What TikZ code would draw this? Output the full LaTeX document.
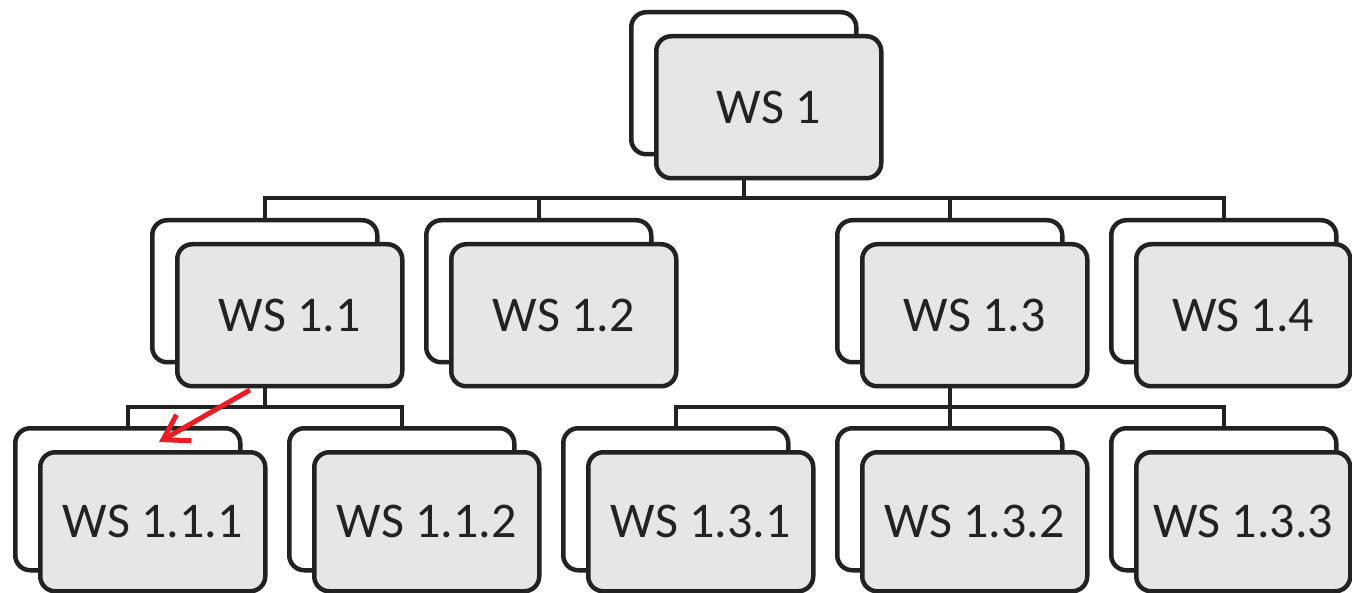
\documentclass[tikz,border=0pt]{standalone}
\usepackage{fontspec}
\setmainfont{Carlito}
\usetikzlibrary{arrows.meta}
\definecolor{boxfill}{HTML}{E6E6E6}
\definecolor{edge}{HTML}{222222}
\definecolor{arrowred}{HTML}{ED1C24}
\begin{document}
\begin{tikzpicture}[x=1pt,y=-1pt,
  backbox/.style={draw=edge, line width=4.5pt, fill=white, rounded corners=15pt,
    minimum width=225pt, minimum height=142pt, inner sep=0pt, anchor=north west},
  frontbox/.style={backbox, fill=boxfill, font=\fontsize{50}{60}\selectfont, text=edge},
  conn/.style={draw=edge, line width=4.5pt, line join=miter}]
\useasboundingbox (0,0) rectangle (1352,593);
\clip (0,0) rectangle (1352,593);
% bus coordinates
\coordinate (bus1) at (742,198);
\coordinate (bus2) at (263,407);
\coordinate (bus3) at (948,407);
% back boxes
\node[backbox] (b1) at (629,10) {};
\node[backbox] (b11) at (150,218) {};
\node[backbox] (b12) at (424,218) {};
\node[backbox] (b13) at (835,218) {};
\node[backbox] (b14) at (1109,218) {};
\node[backbox] (b111) at (13,426) {};
\node[backbox] (b112) at (287,426) {};
\node[backbox] (b131) at (561,426) {};
\node[backbox] (b132) at (835,426) {};
\node[backbox] (b133) at (1109,426) {};
% connectors
\draw[conn] (b1 |- 0,178) -- (b1 |- bus1);
\draw[conn] (b11.north) -- (b11 |- bus1) -- (b14 |- bus1) -- (b14.north);
\draw[conn] (b12 |- bus1) -- (b12.north);
\draw[conn] (b13 |- bus1) -- (b13.north);
\draw[conn] (b11 |- 0,385) -- (b11 |- bus2);
\draw[conn] (b111.north) -- (b111 |- bus2) -- (b112 |- bus2) -- (b112.north);
\draw[conn] (b13 |- 0,385) -- (b13 |- bus3);
\draw[conn] (b131.north) -- (b131 |- bus3) -- (b133 |- bus3) -- (b133.north);
\draw[conn] (b132 |- bus3) -- (b132.north);
% front boxes
\node[frontbox] (f1) at (654,34) {WS 1};
\node[frontbox] (f11) at (175,242) {WS 1.1};
\node[frontbox] (f12) at (449,242) {WS 1.2};
\node[frontbox] (f13) at (860,242) {WS 1.3};
\node[frontbox, minimum width=214pt] (f14) at (1134,242) {WS 1.4};
\node[frontbox, minimum height=139pt] (f111) at (38,450) {WS 1.1.1};
\node[frontbox, minimum height=139pt] (f112) at (312,450) {WS 1.1.2};
\node[frontbox, minimum height=139pt] (f131) at (586,450) {WS 1.3.1};
\node[frontbox, minimum height=139pt] (f132) at (860,450) {WS 1.3.2};
\node[frontbox, minimum height=139pt, minimum width=214pt] (f133) at (1134,450) {WS 1.3.3};
% red arrow
\coordinate (arrS) at (250,390);
\coordinate (arrE) at (159,442);
\draw[arrowred, line width=5pt, -{Straight Barb[length=24pt,width=30pt]}] (arrS) -- (arrE);
\end{tikzpicture}
\end{document}
